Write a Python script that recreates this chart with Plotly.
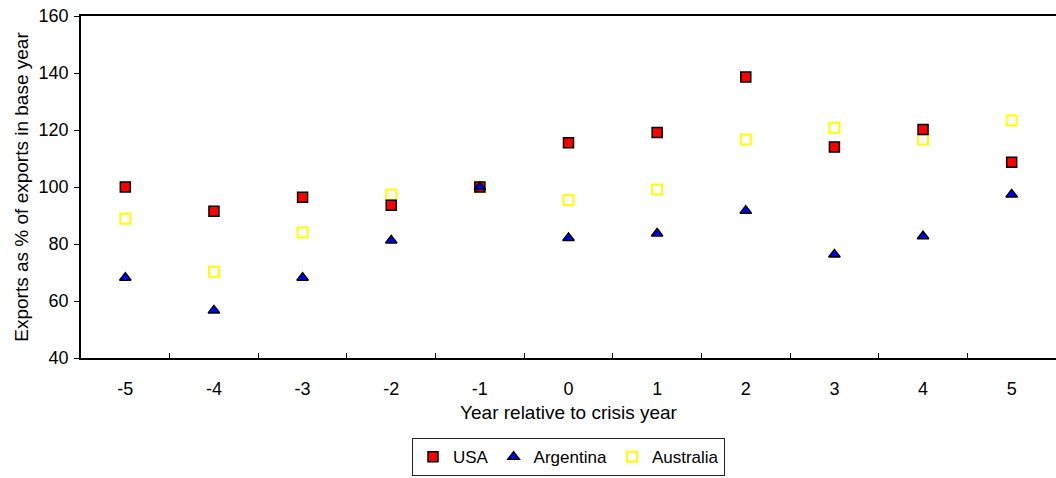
import plotly.graph_objects as go

# Year relative to crisis year
years = [-5, -4, -3, -2, -1, 0, 1, 2, 3, 4, 5]

# Exports as % of exports in base year
usa = [100.0, 91.5, 96.4, 93.6, 100.0, 115.5, 119.1, 138.6, 114.0, 120.2, 108.7]
argentina = [68.2, 56.7, 68.2, 81.2, 100.0, 82.1, 83.7, 91.7, 76.3, 82.7, 97.4]
australia = [88.9, 70.3, 84.0, 97.3, 100.0, 95.4, 99.1, 116.7, 120.8, 116.7, 123.3]

tick_labels = [str(y) for y in years]
boundaries = [y + 0.5 for y in years[:-1]]

font_family = "Liberation Sans, Arial, sans-serif"

fig = go.Figure()

fig.add_trace(go.Scatter(
    x=years, y=australia, mode="markers", name="Australia", legendrank=3,
    marker=dict(symbol="square", size=10, color="white",
                line=dict(color="#FFFF00", width=2)),
))
fig.add_trace(go.Scatter(
    x=years, y=usa, mode="markers", name="USA", legendrank=1,
    marker=dict(symbol="square", size=10, color="#FF0000",
                line=dict(color="black", width=1.5)),
))
fig.add_trace(go.Scatter(
    x=years, y=argentina, mode="markers", name="Argentina", legendrank=2,
    marker=dict(symbol="triangle-up", size=10, color="#0000FF",
                line=dict(color="black", width=1.5)),
))

fig.update_layout(
    width=1056, height=478,
    margin=dict(l=81, r=0, t=16, b=120, autoexpand=False),
    paper_bgcolor="white", plot_bgcolor="white",
    font=dict(family=font_family, size=18, color="black"),
    showlegend=True,
    legend=dict(
        orientation="h", x=0.5, xanchor="center",
        yref="container", y=0.004, yanchor="bottom",
        bordercolor="#222222", borderwidth=1, bgcolor="white",
        font=dict(size=17), itemwidth=30, tracegroupgap=0,
        traceorder="normal",
    ),
    xaxis=dict(
        range=[-5.5, 5.5], tickmode="array", tickvals=years, ticktext=tick_labels,
        ticks="", showgrid=False, zeroline=False,
        showline=True, linecolor="black", linewidth=1.5, mirror=True,
        ticklabelstandoff=14,
        minor=dict(tickmode="array", tickvals=boundaries, ticks="inside",
                   ticklen=5, tickwidth=1, tickcolor="black", showgrid=False),
        title=dict(text="Year relative to crisis year", standoff=7,
                   font=dict(size=19)),
        fixedrange=True,
    ),
    yaxis=dict(
        range=[40, 160], tickmode="array", tickvals=[40, 60, 80, 100, 120, 140, 160],
        ticks="outside", ticklen=5, tickcolor="black", tickwidth=1,
        showgrid=False, zeroline=False,
        showline=True, linecolor="black", linewidth=1.5,
        ticklabelstandoff=2,
        title=dict(text="Exports as % of exports in base year", standoff=5,
                   font=dict(size=19)),
        fixedrange=True,
    ),
)

fig.write_html("out.html")
